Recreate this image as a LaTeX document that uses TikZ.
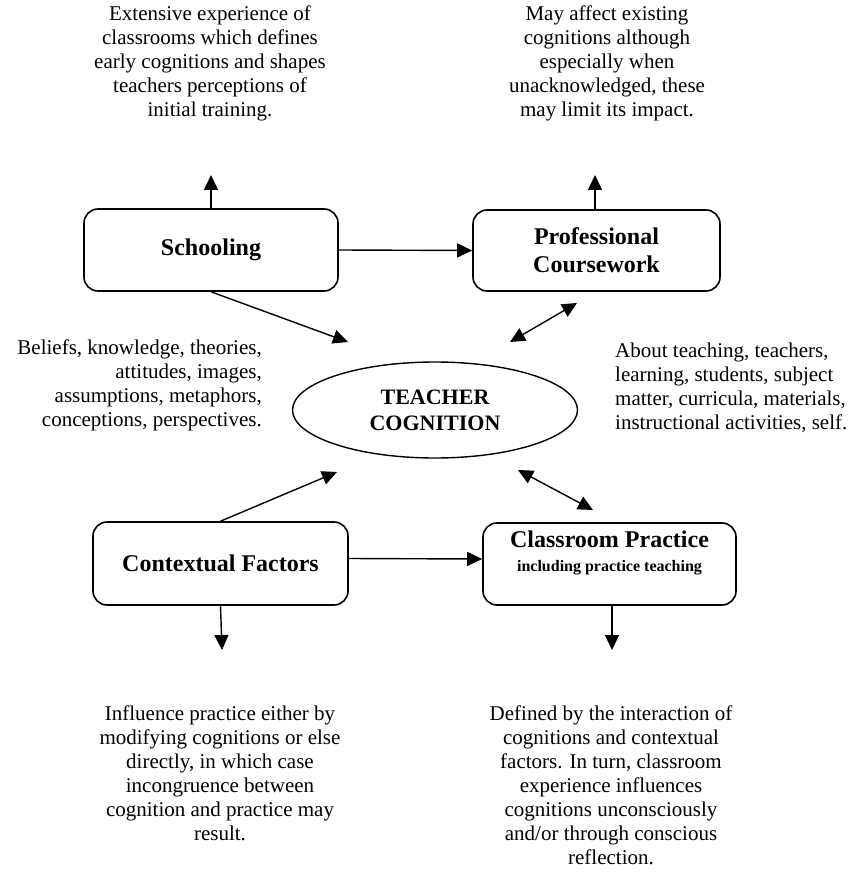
\documentclass[tikz,border=0pt]{standalone}
\usepackage{fontspec}
\setmainfont{Liberation Serif}
\usetikzlibrary{arrows.meta,shapes.geometric}
\tikzset{
  box/.style={draw, line width=1.6pt, rounded corners=14pt, inner sep=0pt,
    font={\fontsize{24}{28}\selectfont\bfseries}, align=center},
  note/.style={inner sep=0pt, font={\fontsize{21}{24}\selectfont}},
  conn/.style={line width=1.4pt, -{Triangle[length=15pt,width=14pt]}},
  dconn/.style={line width=1.4pt, {Triangle[length=15pt,width=14pt]}-{Triangle[length=15pt,width=14pt]}},
}
\begin{document}
\begin{tikzpicture}[x=1pt,y=-1pt]
\useasboundingbox (0,0) rectangle (851,877);
% boxes
\node[box, minimum width=254pt, minimum height=82pt] (S) at (211,250) {Schooling};
\node[box, minimum width=247pt, minimum height=81pt] (PC) at (596.5,250.5) {Professional\\Coursework};
\node[box, minimum width=255pt, minimum height=83pt] (C) at (220.5,563.5) {Contextual Factors};
\node[box, minimum width=253pt, minimum height=82pt] (CP) at (609.5,564) {Classroom Practice\\[-4pt]{\fontsize{16}{18}\selectfont including practice teaching}\\[-2pt]};
\node[draw, line width=1.4pt, ellipse, minimum width=285pt, minimum height=96pt, inner sep=0pt,
  font={\fontsize{22}{26}\selectfont\bfseries}, align=center] (T) at (435,410) {TEACHER\\COGNITION};
% free ends
\coordinate (Sup) at (211,175);
\coordinate (PCup) at (595,175);
\coordinate (Sdiag) at (348,342);
\coordinate (PCa) at (577,303);
\coordinate (PCb) at (510,342);
\coordinate (Cup) at (337,472);
\coordinate (Cdown) at (222,650);
\coordinate (CPa) at (518,470);
\coordinate (CPb) at (593,510);
\coordinate (CPtop) at (612,605);
\coordinate (CPdown) at (612,650);
% texts
\node[note, align=center, anchor=north] (t1) at (210,6) {Extensive experience of\\classrooms which defines\\early cognitions and shapes\\teachers perceptions of\\initial training.};
\node[note, align=center, anchor=north] (t2) at (607,6) {May affect existing\\cognitions although\\especially when\\unacknowledged, these\\may limit its impact.};
\node[note, align=right, anchor=east] (t3) at (262,385) {Beliefs, knowledge, theories,\\attitudes, images,\\assumptions, metaphors,\\conceptions, perspectives.};
\node[note, align=left, anchor=west] (t4) at (615,388) {About teaching, teachers,\\learning, students, subject\\matter, curricula, materials,\\instructional activities, self.};
\node[note, align=center, anchor=north] (t5) at (220,706) {Influence practice either by\\modifying cognitions or else\\directly, in which case\\incongruence between\\cognition and practice may\\result.};
\node[note, align=center, anchor=north] (t6) at (611,706) {Defined by the interaction of\\cognitions and contextual\\factors. In turn, classroom\\experience influences\\cognitions unconsciously\\and/or through conscious\\reflection.};
% connectors
\draw[conn] (S.north) -- (Sup);
\draw[conn] (PC.north -| PCup) -- (PCup);
\draw[conn] (S.east) -- (PC.west);
\draw[conn] (S.south) -- (Sdiag);
\draw[dconn] (PCa) -- (PCb);
\draw[conn] (C.north) -- (Cup);
\draw[conn] (C.south) -- (Cdown);
\draw[conn] ([yshift=5pt]C.east) -- ([yshift=5pt]CP.west);
\draw[dconn] (CPa) -- (CPb);
\draw[conn] (CP.south -| CPtop) -- (CPdown);
\end{tikzpicture}
\end{document}
